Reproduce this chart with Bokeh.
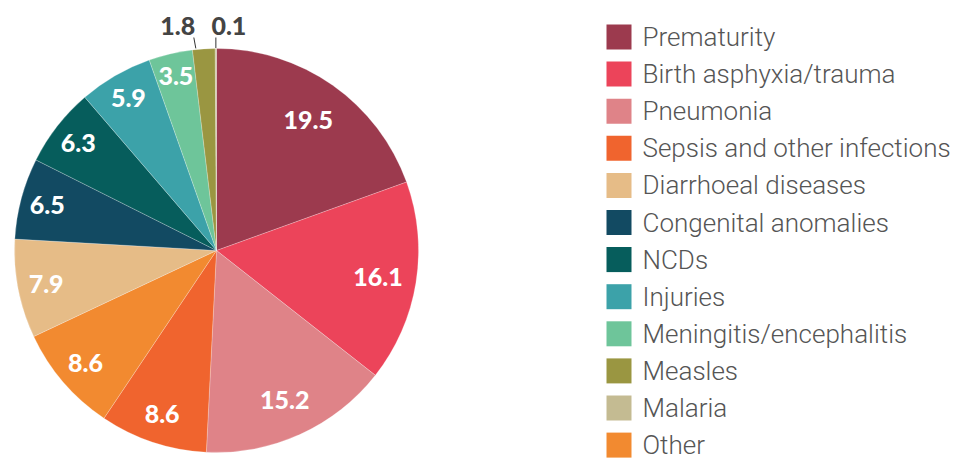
import numpy as np
from bokeh.plotting import figure
from bokeh.models import Range1d, ColumnDataSource
from bokeh.core.properties import value
from bokeh.embed import file_html
from bokeh.resources import INLINE

# ---- data ----
legend_causes = ["Prematurity", "Birth asphyxia/trauma", "Pneumonia",
                 "Sepsis and other infections", "Diarrhoeal diseases",
                 "Congenital anomalies", "NCDs", "Injuries",
                 "Meningitis/encephalitis", "Measles", "Malaria", "Other"]
legend_colors = ["#9C3A4E", "#EC445A", "#DF8388", "#F0642E", "#E6BC87",
                 "#124A62", "#065D5C", "#3CA2A9", "#6EC59A", "#9A9641",
                 "#C4BB92", "#F28A30"]
pie_causes = ["Prematurity", "Birth asphyxia/trauma", "Pneumonia",
              "Sepsis and other infections", "Other", "Diarrhoeal diseases",
              "Congenital anomalies", "NCDs", "Injuries",
              "Meningitis/encephalitis", "Measles", "Malaria"]
pie_values = [19.5, 16.1, 15.2, 8.6, 8.6, 7.9, 6.5, 6.3, 5.9, 3.5, 1.8, 0.1]

color_of = dict(zip(legend_causes, legend_colors))

W, H = 959, 461
p = figure(width=W, height=H, x_range=Range1d(0, W), y_range=Range1d(0, H),
           output_backend="svg", toolbar_location=None, min_border=0,
           x_axis_location=None, y_axis_location=None)
p.grid.visible = False
p.outline_line_color = None
p.background_fill_color = "white"
p.border_fill_color = "white"


def sy(y):
    return H - y


cx, cy, R = 216, sy(250), 202
vals = np.array(pie_values)
cum = np.concatenate([[0], np.cumsum(vals)]) / vals.sum()
start = np.pi / 2 - 2 * np.pi * cum[1:]
end = np.pi / 2 - 2 * np.pi * cum[:-1]
mid = (start + end) / 2

src = ColumnDataSource(dict(start=start, end=end,
                            color=[color_of[c] for c in pie_causes]))
p.wedge(x=cx, y=cy, radius=R, start_angle="start", end_angle="end",
        fill_color="color", line_color="white", line_width=0.4,
        line_alpha=0.6, source=src)

LABEL_FONT = value("Lato Black")

# inside labels (smaller slices get labels pushed a bit further out)
inside = vals >= 3
lr = 0.906 * R - 1.2 * vals
lab = ColumnDataSource(dict(
    x=(cx + lr * np.cos(mid))[inside],
    y=(cy + lr * np.sin(mid))[inside],
    t=[f"{v:.1f}" for v in vals[inside]]))
p.text(x="x", y="y", text="t", source=lab, text_color="white",
       text_font=LABEL_FONT, text_font_size="25px",
       text_align="center", text_baseline="middle")

# outside labels for tiny slices (styling offsets: base dx, top dx, text dx)
small_idx = [i for i in range(len(vals)) if not inside[i]]
offsets = {small_idx[0]: (-8, -10, -16), small_idx[1]: (0, 0, 13)}
for i in small_idx:
    bx = cx + R * np.cos(mid[i])
    by = cy + R * np.sin(mid[i])
    dbase, dtop, dtext = offsets[i]
    p.segment(x0=bx + dbase, y0=by + 0.5, x1=bx + dtop, y1=sy(37),
              line_color="#333333", line_width=1)
    p.text(x=[bx + dtop + dtext], y=[sy(25)], text=[f"{vals[i]:.1f}"],
           text_color="#444444", text_font=LABEL_FONT,
           text_font_size="25px", text_align="center", text_baseline="middle")

# legend
n = len(legend_causes)
ys = [sy(36.5 + 37.1 * i) for i in range(n)]
leg = ColumnDataSource(dict(x=[618.5] * n, y=ys, c=legend_colors,
                            tx=[642] * n, t=legend_causes))
p.rect(x="x", y="y", width=25, height=25, fill_color="c", line_color=None, source=leg)
p.text(x="tx", y="y", text="t", source=leg, text_color="#555555",
       text_font=value("Roboto Light"), text_font_size="26px",
       text_align="left", text_baseline="middle")

open("out.html", "w").write(file_html(p, INLINE))
